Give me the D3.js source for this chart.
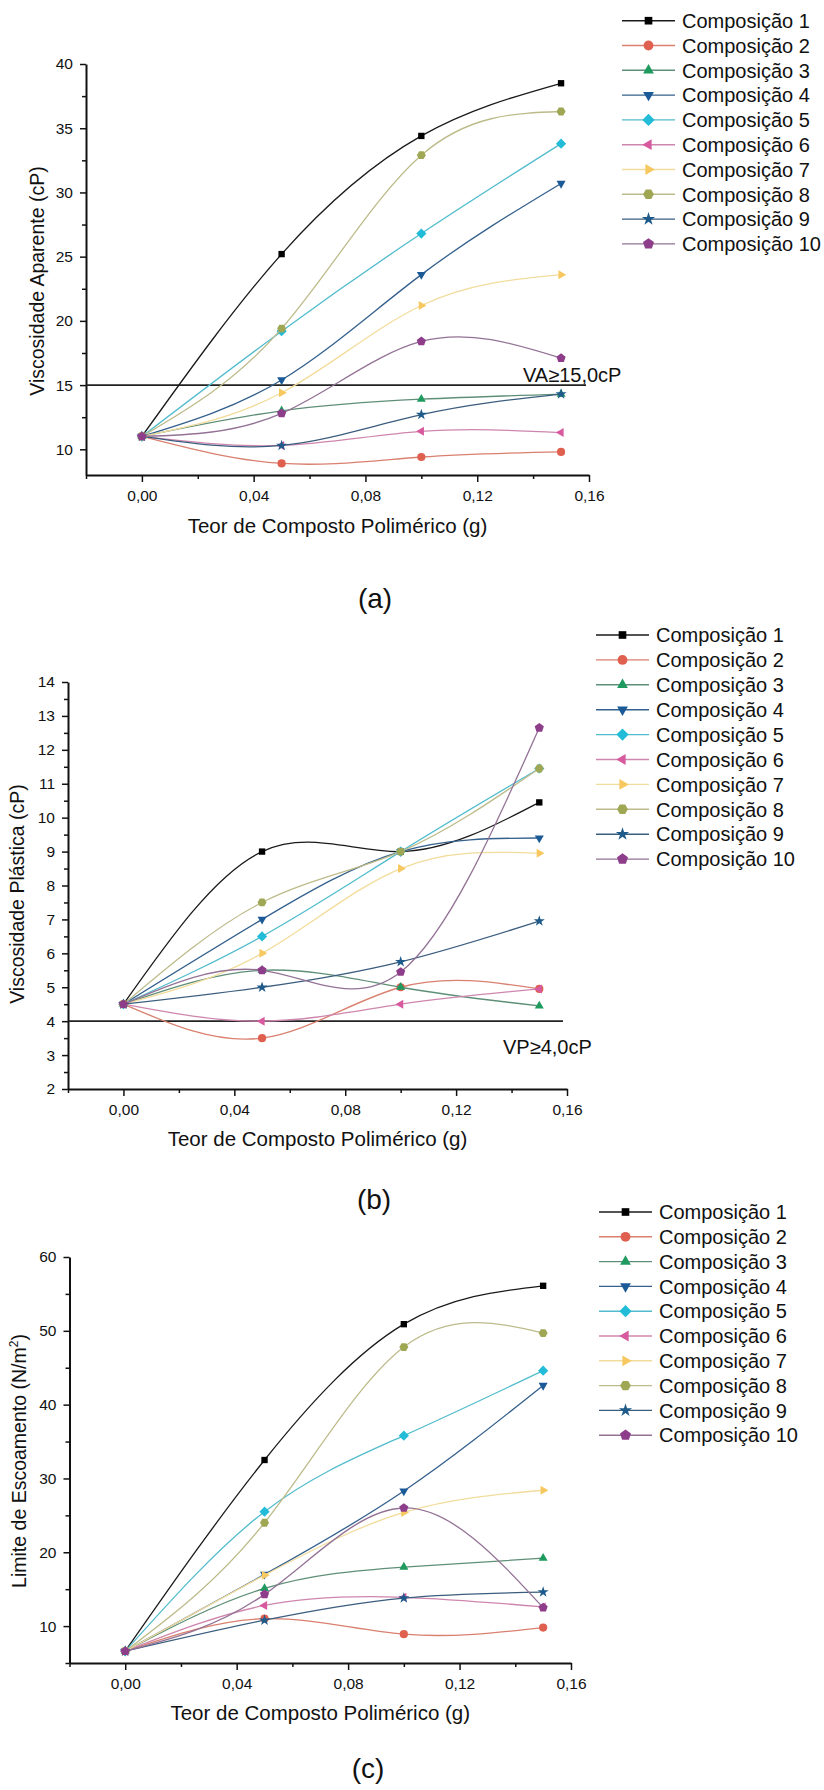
<!DOCTYPE html>
<html>
<head>
<meta charset="utf-8">
<script src="https://cdn.jsdelivr.net/npm/d3@7/dist/d3.min.js"></script>
<style>
  html, body { margin: 0; padding: 0; background: #fff; }
  svg { display: block; }
  text { font-family: "Liberation Sans", Arial, Helvetica, sans-serif; fill: #111; }
</style>
</head>
<body>
<svg id="chart" width="824" height="1790"></svg>
<script>
// Polymer content (g) on the x axis, same for all three panels.
const xValues = [0, 0.05, 0.10, 0.15];
const compositions = [
  "Composição 1", "Composição 2", "Composição 3", "Composição 4", "Composição 5",
  "Composição 6", "Composição 7", "Composição 8", "Composição 9", "Composição 10"
];

// (a) apparent viscosity, cP — one row per composition
const apparentViscosity = [
  [11.0, 25.2, 34.4, 38.5],
  [11.0, 8.9, 9.4, 9.8],
  [11.0, 13.0, 13.9, 14.3],
  [11.0, 15.4, 23.6, 30.7],
  [11.0, 19.2, 26.8, 33.8],
  [11.0, 10.3, 11.4, 11.3],
  [11.0, 14.4, 21.2, 23.6],
  [11.0, 19.4, 32.9, 36.3],
  [11.0, 10.3, 12.7, 14.3],
  [11.0, 12.8, 18.4, 17.1]
];

// (b) plastic viscosity, cP
const plasticViscosity = [
  [4.5, 9.0, 9.0, 10.45],
  [4.5, 3.5, 5.0, 4.95],
  [4.5, 5.5, 5.0, 4.45],
  [4.5, 7.0, 9.0, 9.4],
  [4.5, 6.5, 9.0, 11.45],
  [4.5, 4.0, 4.5, 4.95],
  [4.5, 6.0, 8.5, 8.95],
  [4.5, 7.5, 9.0, 11.45],
  [4.5, 5.0, 5.75, 6.95],
  [4.5, 5.5, 5.45, 12.65]
];

// (c) yield limit, N/m²
const yieldLimit = [
  [6.6, 32.5, 50.9, 56.1],
  [6.6, 11.0, 8.9, 9.8],
  [6.6, 15.1, 18.0, 19.2],
  [6.6, 17.0, 28.3, 42.6],
  [6.6, 25.5, 35.8, 44.6],
  [6.6, 12.8, 13.9, 12.6],
  [6.6, 16.9, 25.4, 28.4],
  [6.6, 24.0, 47.8, 49.7],
  [6.6, 10.8, 13.8, 14.6],
  [6.6, 14.3, 26.0, 12.5]
];

const xTicks = [0, 0.04, 0.08, 0.12, 0.16];
const xMinorTicks = [-0.02, 0.02, 0.06, 0.10, 0.14];
const vaTicks = [10, 15, 20, 25, 30, 35, 40];
const vaMinorTicks = [12.5, 17.5, 22.5, 27.5, 32.5, 37.5];
const vpTicks = [2, 3, 4, 5, 6, 7, 8, 9, 10, 11, 12, 13, 14];
const vpMinorTicks = [2.5, 3.5, 4.5, 5.5, 6.5, 7.5, 8.5, 9.5, 10.5, 11.5, 12.5, 13.5];
const leTicks = [10, 20, 30, 40, 50, 60];
const leMinorTicks = [5, 15, 25, 35, 45, 55];

// Origin-style series styling
const markerColors = ["#000000", "#e0604f", "#1e9a5e", "#1b5a97", "#22bcd8",
                      "#d85a9e", "#f6c85f", "#9fa654", "#1e5a8a", "#8e3d8b"];
const lineColors = ["#1a1a1a", "#d9806f", "#5f8f78", "#34608c", "#52bccd",
                    "#cf86ae", "#f2dc9c", "#bdbb8a", "#3b5d7e", "#937295"];
const markerKinds = ["square", "circle", "triUp", "triDown", "diamond",
                     "triLeft", "triRight", "hexagon", "star", "pentagon"];

const panels = [
  {
    values: apparentViscosity, yDomain: [8, 40], yTicks: vaTicks, yMinor: vaMinorTicks,
    x0: 86, x1: 589, yTop: 64, yBottom: 475,
    yTitle: ["Viscosidade Aparente (cP)"], yTitleX: 44, yTitleY: 281, xTitleY: 533,
    caption: "(a)", capX: 375, capY: 608,
    legend: { x: 622, y: 20.7, step: 24.8 },
    limit: { value: 15, x1: 586, label: "VA≥15,0cP", lx: 523, ly: 382 }
  },
  {
    values: plasticViscosity, yDomain: [2, 14], yTicks: vpTicks, yMinor: vpMinorTicks,
    x0: 68, x1: 567, yTop: 682, yBottom: 1089,
    yTitle: ["Viscosidade Plástica (cP)"], yTitleX: 23.5, yTitleY: 894, xTitleY: 1146,
    caption: "(b)", capX: 374, capY: 1209,
    legend: { x: 596, y: 635, step: 24.9 },
    limit: { value: 4, x1: 563, label: "VP≥4,0cP", lx: 503, ly: 1054 }
  },
  {
    values: yieldLimit, yDomain: [5, 60], yTicks: leTicks, yMinor: leMinorTicks,
    x0: 69.5, x1: 571, yTop: 1257, yBottom: 1663,
    yTitle: ["Limite de Escoamento (N/m", "2", ")"], yTitleX: 25.5, yTitleY: 1461, xTitleY: 1720,
    caption: "(c)", capX: 368, capY: 1778,
    legend: { x: 599, y: 1212, step: 24.8 },
    limit: null
  }
];

const svg = d3.select("#chart");
svg.append("rect").attr("width", 824).attr("height", 1790).attr("fill", "#fff");

function polygon(n, r, rotDeg) {
  const pts = d3.range(n).map((i) => {
    const a = (rotDeg + i * 360 / n) * Math.PI / 180;
    return [r * Math.cos(a), r * Math.sin(a)];
  });
  return "M" + pts.map((p) => p[0].toFixed(2) + "," + p[1].toFixed(2)).join("L") + "Z";
}

function markerPath(kind, s) {
  switch (kind) {
    case "square": return polygon(4, 4.5 * s, 45);
    case "circle": return d3.symbol(d3.symbolCircle, Math.PI * Math.pow(4.1 * s, 2))();
    case "triUp": return polygon(3, 5.2 * s, -90);
    case "triDown": return polygon(3, 5.2 * s, 90);
    case "triLeft": return polygon(3, 5.2 * s, 180);
    case "triRight": return polygon(3, 5.2 * s, 0);
    case "diamond": return polygon(4, 5.1 * s, -90);
    case "hexagon": return polygon(6, 4.5 * s, 0);
    case "pentagon": return polygon(5, 4.8 * s, -90);
    case "star": return d3.symbol(d3.symbolStar, 38 * s * s)();
  }
}

function fmtX(d) { return d3.format(".2f")(d).replace(".", ","); }

function drawPanel(p) {
  const g = svg.append("g");
  const x = d3.scaleLinear().domain([-0.02, 0.16]).range([p.x0, p.x1]);
  const y = d3.scaleLinear().domain(p.yDomain).range([p.yBottom, p.yTop]);

  // axes: major ticks with labels, minor ticks without
  g.append("g").attr("transform", `translate(0,${p.yBottom})`)
    .call(d3.axisBottom(x).tickValues(xTicks).tickFormat(fmtX).tickSize(7).tickSizeOuter(0).tickPadding(8));
  g.append("g").attr("transform", `translate(0,${p.yBottom})`)
    .call(d3.axisBottom(x).tickValues(xMinorTicks).tickFormat("").tickSize(4).tickSizeOuter(0))
    .select(".domain").remove();
  g.append("g").attr("transform", `translate(${p.x0},0)`)
    .call(d3.axisLeft(y).tickValues(p.yTicks).tickSize(6).tickSizeOuter(0).tickPadding(7));
  g.append("g").attr("transform", `translate(${p.x0},0)`)
    .call(d3.axisLeft(y).tickValues(p.yMinor).tickFormat("").tickSize(4).tickSizeOuter(0))
    .select(".domain").remove();

  g.selectAll(".domain").attr("stroke", "#111").attr("stroke-width", 2);
  g.selectAll(".tick line").attr("stroke", "#111").attr("stroke-width", 1.5);
  g.selectAll(".tick text").attr("font-size", 15.5).attr("fill", "#111")
    .attr("font-family", '"Liberation Sans", Arial, sans-serif');

  // axis titles
  g.append("text")
    .attr("x", (p.x0 + p.x1) / 2).attr("y", p.xTitleY)
    .attr("text-anchor", "middle").attr("font-size", 20.5)
    .text("Teor de Composto Polimérico (g)");

  const yt = g.append("text")
    .attr("transform", `translate(${p.yTitleX},${p.yTitleY}) rotate(-90)`)
    .attr("text-anchor", "middle").attr("font-size", 19.5);
  yt.append("tspan").text(p.yTitle[0]);
  if (p.yTitle.length > 1) {
    yt.append("tspan").attr("font-size", 12).attr("dy", -8).text(p.yTitle[1]);
    yt.append("tspan").attr("dy", 8).text(p.yTitle[2]);
  }

  g.append("text")
    .attr("x", p.capX).attr("y", p.capY)
    .attr("text-anchor", "middle").attr("font-size", 28)
    .text(p.caption);

  // threshold line
  if (p.limit) {
    g.append("line")
      .attr("x1", p.x0).attr("x2", p.limit.x1)
      .attr("y1", y(p.limit.value)).attr("y2", y(p.limit.value))
      .attr("stroke", "#222").attr("stroke-width", 1.6);
    g.append("text")
      .attr("x", p.limit.lx).attr("y", p.limit.ly)
      .attr("font-size", 20)
      .text(p.limit.label);
  }

  // series: spline through the four points, then symbols
  const line = d3.line().x((d) => x(d[0])).y((d) => y(d[1])).curve(d3.curveNatural);
  p.values.forEach((vals, i) => {
    const pts = xValues.map((xv, j) => [xv, vals[j]]);
    const sg = g.append("g");
    sg.append("path")
      .attr("d", line(pts))
      .attr("fill", "none")
      .attr("stroke", lineColors[i])
      .attr("stroke-width", 1.3);
    sg.selectAll("path.mk")
      .data(pts)
      .join("path")
      .attr("class", "mk")
      .attr("transform", (d) => `translate(${x(d[0])},${y(d[1])})`)
      .attr("d", markerPath(markerKinds[i], 1))
      .attr("fill", markerColors[i]);
  });

  // legend
  const lg = g.append("g");
  compositions.forEach((name, i) => {
    const ly = p.legend.y + i * p.legend.step;
    lg.append("line")
      .attr("x1", p.legend.x).attr("x2", p.legend.x + 53)
      .attr("y1", ly).attr("y2", ly)
      .attr("stroke", lineColors[i]).attr("stroke-width", 1.4);
    lg.append("path")
      .attr("transform", `translate(${p.legend.x + 26.5},${ly})`)
      .attr("d", markerPath(markerKinds[i], 1.2))
      .attr("fill", markerColors[i]);
    lg.append("text")
      .attr("x", p.legend.x + 60).attr("y", ly)
      .attr("dy", "0.36em").attr("font-size", 20)
      .text(name);
  });
}

panels.forEach(drawPanel);
</script>
</body>
</html>
